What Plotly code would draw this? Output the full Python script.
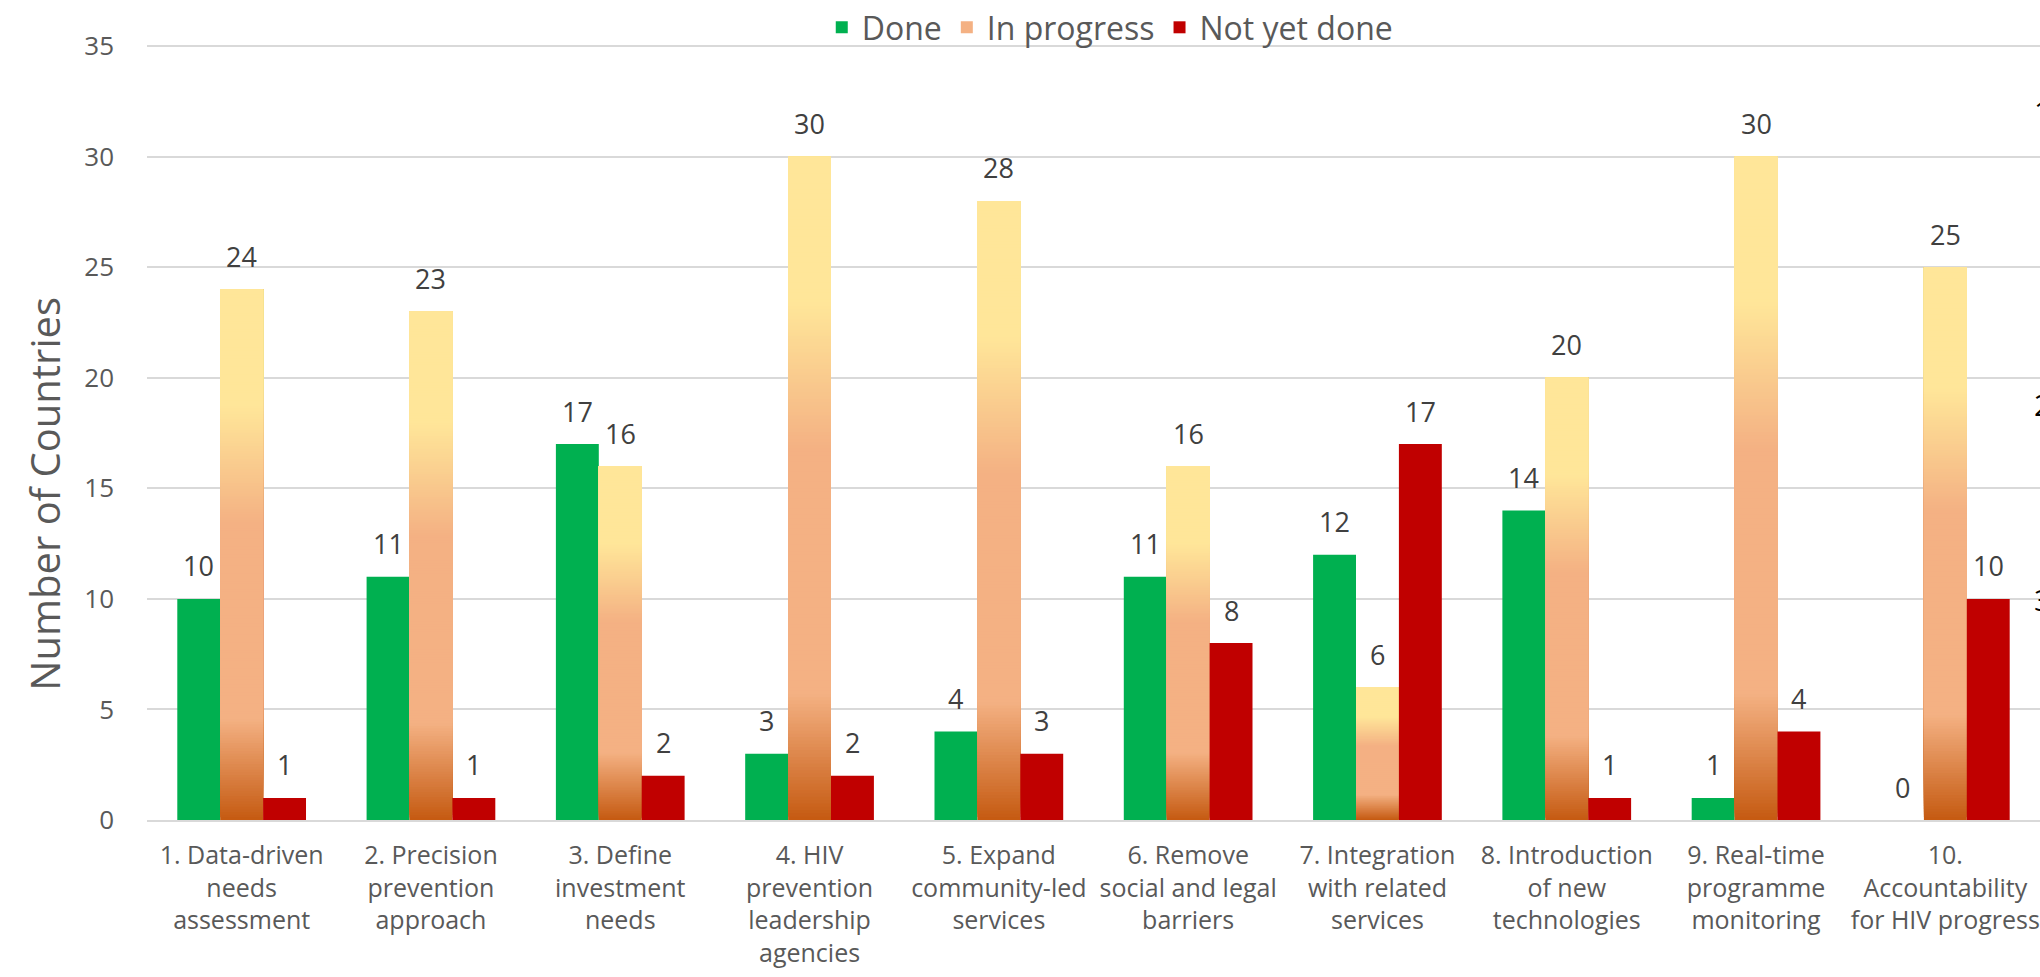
import plotly.graph_objects as go

# ---------------- data ----------------
categories = [
    "1. Data-driven<br>needs<br>assessment",
    "2. Precision<br>prevention<br>approach",
    "3. Define<br>investment<br>needs",
    "4. HIV<br>prevention<br>leadership<br>agencies",
    "5. Expand<br>community-led<br>services",
    "6. Remove<br>social and legal<br>barriers",
    "7. Integration<br>with related<br>services",
    "8. Introduction<br>of new<br>technologies",
    "9. Real-time<br>programme<br>monitoring",
    "10.<br>Accountability<br>for HIV progress",
]
done = [10, 11, 17, 3, 4, 11, 12, 14, 1, 0]
in_progress = [24, 23, 16, 30, 28, 16, 6, 20, 30, 25]
not_yet_done = [1, 1, 2, 2, 3, 8, 17, 1, 4, 10]
series_names = ["Done", "In progress", "Not yet done"]
y_ticks = [0, 5, 10, 15, 20, 25, 30, 35]
y_title = "Number of Countries"

# ---------------- style ----------------
W, H = 2040, 977
M_L, M_R, M_T, M_B = 147, 0, 45, 157
BARGAP = 0.32
FONT = "Open Sans"
GREEN = "#00B050"
RED = "#C00000"
SALMON = "#F4B183"
LABEL_GREY = "#595959"
VALUE_GREY = "#404040"
GRID = "#D9D9D9"
# gradient stops (fraction from bar bottom)
GRAD = [(0.0, "#C55A11"), (0.19, "#F4B183"), (0.56, "#F4B183"),
        (0.78, "#FFE699"), (1.0, "#FFE699")]
N_SEG = 200


def hex2rgb(h):
    h = h.lstrip("#")
    return tuple(int(h[i:i + 2], 16) for i in (0, 2, 4))


def grad_color(f):
    for (f0, c0), (f1, c1) in zip(GRAD[:-1], GRAD[1:]):
        if f0 <= f <= f1:
            t = 0 if f1 == f0 else (f - f0) / (f1 - f0)
            a, b = hex2rgb(c0), hex2rgb(c1)
            r = [round(a[k] + (b[k] - a[k]) * t) for k in range(3)]
            return "rgb(%d,%d,%d)" % tuple(r)
    return GRAD[-1][1]


fig = go.Figure()

# Done
fig.add_trace(go.Bar(x=categories, y=done, name="Done", marker=dict(color=GREEN, line_width=0),
                     showlegend=False, hoverinfo="skip"))

# In progress with vertical gradient (segments built from each bar's own value)
gx, gy, gbase, gcol = [], [], [], []
for i in range(N_SEG):
    col = grad_color((i + 0.5) / N_SEG)
    for c, v in zip(categories, in_progress):
        gx.append(c)
        gbase.append(v * i / N_SEG)
        gy.append(v * (N_SEG - i) / N_SEG)
        gcol.append(col)
fig.add_trace(go.Bar(x=gx, y=gy, base=gbase, name="In progress",
                     marker=dict(color=gcol, line_width=0), showlegend=False, hoverinfo="skip"))

# Not yet done
fig.add_trace(go.Bar(x=categories, y=not_yet_done, name="Not yet done",
                     marker=dict(color=RED, line_width=0), showlegend=False, hoverinfo="skip"))

# legend entries
for nm, col in zip(series_names, [GREEN, SALMON, RED]):
    fig.add_trace(go.Scatter(x=[None], y=[None], mode="markers", name=nm,
                             marker=dict(symbol="square", size=21, color=col)))

# value labels
plot_w = W - M_L - M_R
cat_w = plot_w / len(categories)
bar_w = cat_w * (1 - BARGAP) / 3
for j, vals in enumerate([done, in_progress, not_yet_done]):
    for c, v in zip(categories, vals):
        fig.add_annotation(x=c, y=v, xref="x", yref="y", text=str(v), showarrow=False,
                           xshift=(j - 1) * bar_w, yshift=33, yanchor="middle",
                           font=dict(family=FONT, size=27, color=VALUE_GREY))

# y-axis title (placed like the reference, below the axis centre)
fig.add_annotation(x=0, y=0.421, xref="paper", yref="paper", text=y_title, showarrow=False,
                   textangle=-90, xanchor="center", yanchor="middle", xshift=-102,
                   font=dict(family=FONT, size=40, color=LABEL_GREY))

# partial cut-off glyphs at right edge (as in the reference)
for t, yp in zip(["1", "2", "3"], [0.915, 0.536, 0.284]):
    fig.add_annotation(x=1, y=yp, xref="paper", yref="paper", text=t, showarrow=False,
                       xanchor="left", xshift=-8, yanchor="middle",
                       font=dict(family=FONT, size=30, color="#000000"))

fig.update_layout(
    width=W, height=H,
    margin=dict(l=M_L, r=M_R, t=M_T, b=M_B, pad=0, autoexpand=False),
    paper_bgcolor="white", plot_bgcolor="white",
    barmode="group", bargap=BARGAP, bargroupgap=0,
    font=dict(family=FONT, color=LABEL_GREY),
    legend=dict(orientation="h", x=0.544, xanchor="center", xref="container",
                y=1.0, yanchor="top", yref="container",
                font=dict(family=FONT, size=32, color=LABEL_GREY),
                itemsizing="constant", traceorder="normal", bgcolor="rgba(0,0,0,0)",
                itemwidth=30, tracegroupgap=0),
    xaxis=dict(showgrid=False, showline=True, linecolor=GRID, linewidth=2,
               tickfont=dict(family=FONT, size=25, color=LABEL_GREY),
               ticks="", ticklabelstandoff=12, automargin=False),
    yaxis=dict(range=[0, 35.05], tickvals=y_ticks, showgrid=True, gridcolor=GRID, gridwidth=1.5,
               zeroline=False, showline=False, automargin=False,
               tickfont=dict(family=FONT, size=26, color=LABEL_GREY),
               ticklabelstandoff=32),
)

fig.write_html("out.html", config={"displayModeBar": False},
               post_script="document.body.style.margin='0px';document.body.style.overflow='hidden';")
